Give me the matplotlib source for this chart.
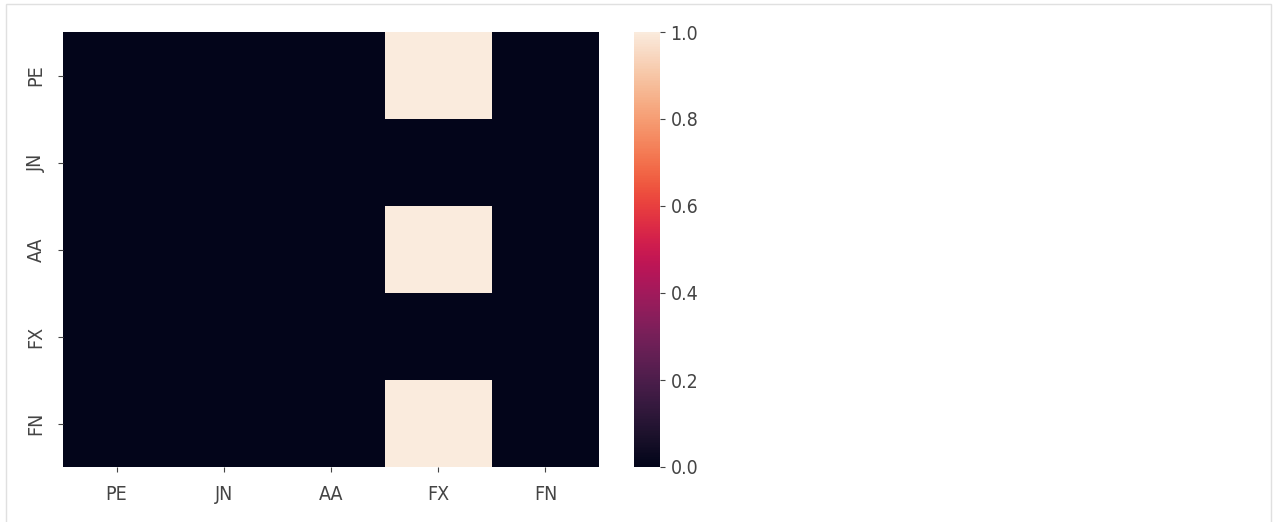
import matplotlib
matplotlib.use("Agg")
import matplotlib.pyplot as plt
import numpy as np
import pandas as pd
import seaborn as sns
from matplotlib.patches import Rectangle

labels = ["PE", "JN", "AA", "FX", "FN"]
row_pe = [0, 0, 0, 1, 0]
row_jn = [0, 0, 0, 0, 0]
row_aa = [0, 0, 0, 1, 0]
row_fx = [0, 0, 0, 0, 0]
row_fn = [0, 0, 0, 1, 0]

df = pd.DataFrame([row_pe, row_jn, row_aa, row_fx, row_fn], index=labels, columns=labels)

W, H = 1273, 522
fig = plt.figure(figsize=(W / 100, H / 100), dpi=100)
ax = fig.add_axes([63 / W, 1 - 467 / H, (599 - 63) / W, (467 - 32) / H])
cax = fig.add_axes([634 / W, 1 - 467 / H, (660 - 634) / W, (467 - 32) / H])

sns.heatmap(df, ax=ax, cbar_ax=cax)

label_color = "#444444"
ax.tick_params(axis="x", length=3.5, pad=9.5, labelsize=14, labelcolor=label_color, color=label_color)
ax.tick_params(axis="y", length=3.5, pad=9, labelsize=14, labelcolor=label_color, color=label_color)
cax.tick_params(length=3.5, pad=4, labelsize=14, labelcolor=label_color, color=label_color)
for t in ax.get_xticklabels() + ax.get_yticklabels() + cax.get_yticklabels():
    t.set_fontstretch("condensed")

# light frame around the output cell
fig.patches.append(Rectangle((6 / W, -0.1), (1271 - 6) / W, 1.1 - 4 / H, transform=fig.transFigure,
                             fill=False, edgecolor="#e0e0e0", linewidth=1))

plt.savefig("out.png", dpi=100)
plt.close()
